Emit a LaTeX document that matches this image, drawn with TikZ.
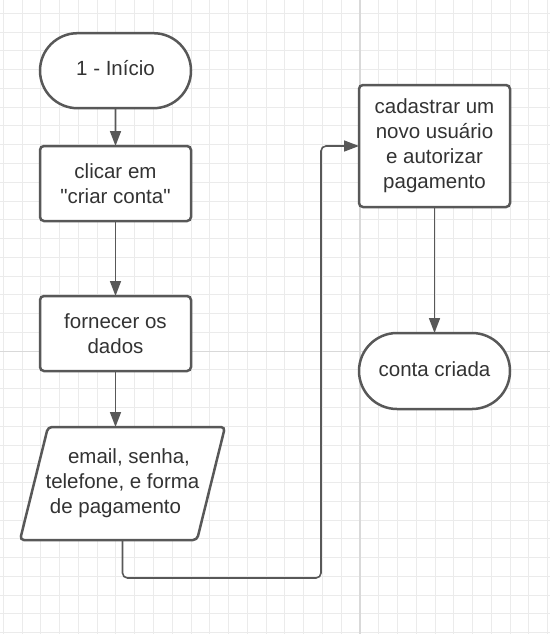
\documentclass[tikz,border=0pt]{standalone}
\usepackage{fontspec}
\setmainfont{Liberation Sans}[Ligatures=TeXOff]
\usetikzlibrary{arrows.meta,shapes.misc}
\definecolor{gridminor}{HTML}{EBEBEB}
\definecolor{gridmajor}{HTML}{D9D9D9}
\definecolor{edge}{HTML}{585858}
\definecolor{txt}{HTML}{333333}
\begin{document}
\begin{tikzpicture}[x=1pt,y=-1pt,
  base/.style={draw=edge, line width=2.5pt, fill=white, minimum width=151pt, inner sep=0pt, outer sep=0pt,
    text=txt, align=center, font=\fontsize{20.5}{25}\selectfont},
  box/.style={base, rectangle, rounded corners=4pt},
  term/.style={base, rounded rectangle, text height=15pt, text depth=4.5pt},
  arr/.style={draw=edge, line width=1.6pt, -{Triangle[length=15pt,width=11pt]}},
  conn/.style={arr, rounded corners=5pt}]
% background and grid
\useasboundingbox (0,0) rectangle (550,634);
\fill[white] (0,0) rectangle (550,634);
\foreach \k in {0,...,29} \draw[gridminor, line width=1pt] ({3.3+18.77*\k},0) -- ({3.3+18.77*\k},634);
\foreach \k in {0,...,33} \draw[gridminor, line width=1pt] (0,{13.3+18.77*\k}) -- (550,{13.3+18.77*\k});
\draw[gridmajor, line width=1.2pt] (360,0) -- (360,634);
\draw[gridmajor, line width=1.2pt] (0,351.5) -- (550,351.5);
% nodes
\node[term, minimum height=75pt] (start) at (115.5,70.7) {1 - Início};
\node[box, minimum height=75pt] (b2) at (115.5,183.5) {clicar em\\"criar conta"};
\node[box, minimum height=75pt] (b3) at (115.5,333.5) {fornecer os\\dados};
\draw[draw=edge, line width=2.5pt, fill=white, rounded corners=4pt]
  (48,427) -- (225,427) -- (197,540) -- (20,540) -- cycle;
\node[inner sep=0pt, outer sep=0pt, minimum width=205pt, minimum height=113pt, text=txt, align=center,
  font=\fontsize{20.5}{25}\selectfont] (para) at (122.5,483.5)
  {\hspace*{13pt}email, senha,\\telefone, e forma\\de pagamento\hspace*{14pt}};
\node[box, minimum height=122pt] (b4) at (434.5,146) {cadastrar um\\novo usuário\\e autorizar\\pagamento};
\node[term, minimum height=76pt] (end) at (434.5,371) {conta criada};
\coordinate (c1) at (321,578);
% connectors
\draw[arr] (start) -- (b2);
\draw[arr] (b2) -- (b3);
\draw[arr] (b3.south) -- (b3.south |- para.north);
\draw[conn] (para.south) |- (c1) |- (b4.west);
\draw[arr] (b4) -- (end);
\end{tikzpicture}
\end{document}
